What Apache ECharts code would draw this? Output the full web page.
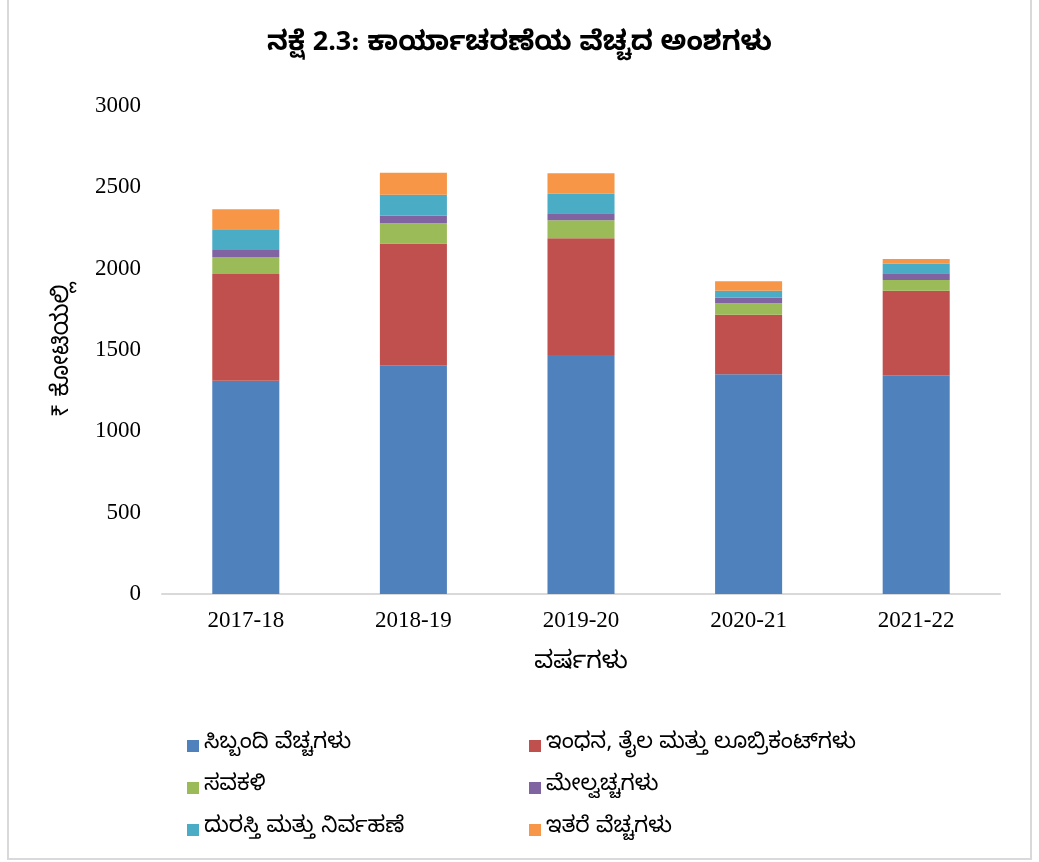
<!DOCTYPE html>
<html>
<head>
<meta charset="utf-8">
<script src="https://cdn.jsdelivr.net/npm/echarts@6/dist/echarts.min.js"></script>
<style>
  html, body { margin: 0; padding: 0; background: #fff; }
  #frame {
    position: absolute; left: 7px; top: -2px; width: 1021px; height: 858px;
    border: 2px solid #d9d9d9; box-sizing: content-box;
  }
  #chart { position: absolute; left: 0; top: 0; width: 1039px; height: 862px; }
</style>
</head>
<body>
<div id="frame"></div>
<div id="chart"></div>
<script>
// years on the x axis
const years = ["2017-18", "2018-19", "2019-20", "2020-21", "2021-22"];

// ₹ crore
const staff = [1311, 1406, 1469, 1351, 1345];
const fuel = [656, 748, 718, 366, 520];
const depreciation = [105, 125, 110, 70, 65];
const overheads = [43, 47, 44, 35, 42];
const repairs = [127, 129, 120, 43, 59];
const otherCosts = [123, 135, 125, 57, 29];

const seriesNames = [
  "ಸಿಬ್ಬಂದಿ ವೆಚ್ಚಗಳು",
  "ಇಂಧನ, ತೈಲ ಮತ್ತು ಲೂಬ್ರಿಕಂಟ್‌ಗಳು",
  "ಸವಕಳಿ",
  "ಮೇಲ್ವಚ್ಚಗಳು",
  "ದುರಸ್ತಿ ಮತ್ತು ನಿರ್ವಹಣೆ",
  "ಇತರೆ ವೆಚ್ಚಗಳು",
];
const seriesData = [staff, fuel, depreciation, overheads, repairs, otherCosts];
const colors = ["#4f81bd", "#c0504d", "#9bbb59", "#8064a2", "#4bacc6", "#f79646"];

const knFont = "'Noto Sans Kannada', 'Noto Sans', sans-serif";
const numFont = "'Liberation Serif', 'Times New Roman', serif";

const series = seriesNames.map((name, i) => ({
  name: name,
  type: "bar",
  stack: "total",
  barCategoryGap: "60%",
  data: seriesData[i],
  itemStyle: { color: colors[i] },
}));

const legendBase = {
  orient: "vertical",
  itemWidth: 12,
  itemHeight: 12,
  itemGap: 20,
  icon: "rect",
  textStyle: { fontFamily: knFont, fontSize: 22, lineHeight: 22, color: "#000" },
};

const option = {
  animation: false,
  color: colors,
  title: {
    text: "ನಕ್ಷೆ 2.3: ಕಾರ್ಯಾಚರಣೆಯ ವೆಚ್ಚದ ಅಂಶಗಳು",
    left: "center",
    top: 29,
    textStyle: { fontFamily: knFont, fontSize: 27, fontWeight: "bold", color: "#000" },
  },
  grid: { left: 162, right: 39, top: 106, bottom: 268 },
  legend: [
    Object.assign({}, legendBase, { left: 182, top: 730, data: [seriesNames[0], seriesNames[2], seriesNames[4]] }),
    Object.assign({}, legendBase, { left: 524, top: 730, data: [seriesNames[1], seriesNames[3], seriesNames[5]] }),
  ],
  xAxis: {
    type: "category",
    data: years,
    name: "ವರ್ಷಗಳು",
    nameLocation: "middle",
    nameGap: 60,
    nameTextStyle: { fontFamily: knFont, fontSize: 24, color: "#000" },
    axisLine: { lineStyle: { color: "#d9d9d9", width: 2 } },
    axisTick: { show: false },
    axisLabel: { fontFamily: numFont, fontSize: 23, color: "#000", margin: 15 },
  },
  yAxis: {
    type: "value",
    min: 0,
    max: 3000,
    interval: 500,
    name: "₹ ಕೋಟಿಯಲ್ಲಿ",
    nameLocation: "middle",
    nameGap: 84,
    nameRotate: 90,
    nameTextStyle: { fontFamily: knFont, fontSize: 24, color: "#000" },
    axisLine: { show: false },
    axisTick: { show: false },
    splitLine: { show: false },
    axisLabel: {
      fontFamily: numFont, fontSize: 23, color: "#000", margin: 21,
      formatter: (v) => String(v),
    },
  },
  series: series,
};

const chart = echarts.init(document.getElementById("chart"));
chart.setOption(option);
</script>
</body>
</html>
